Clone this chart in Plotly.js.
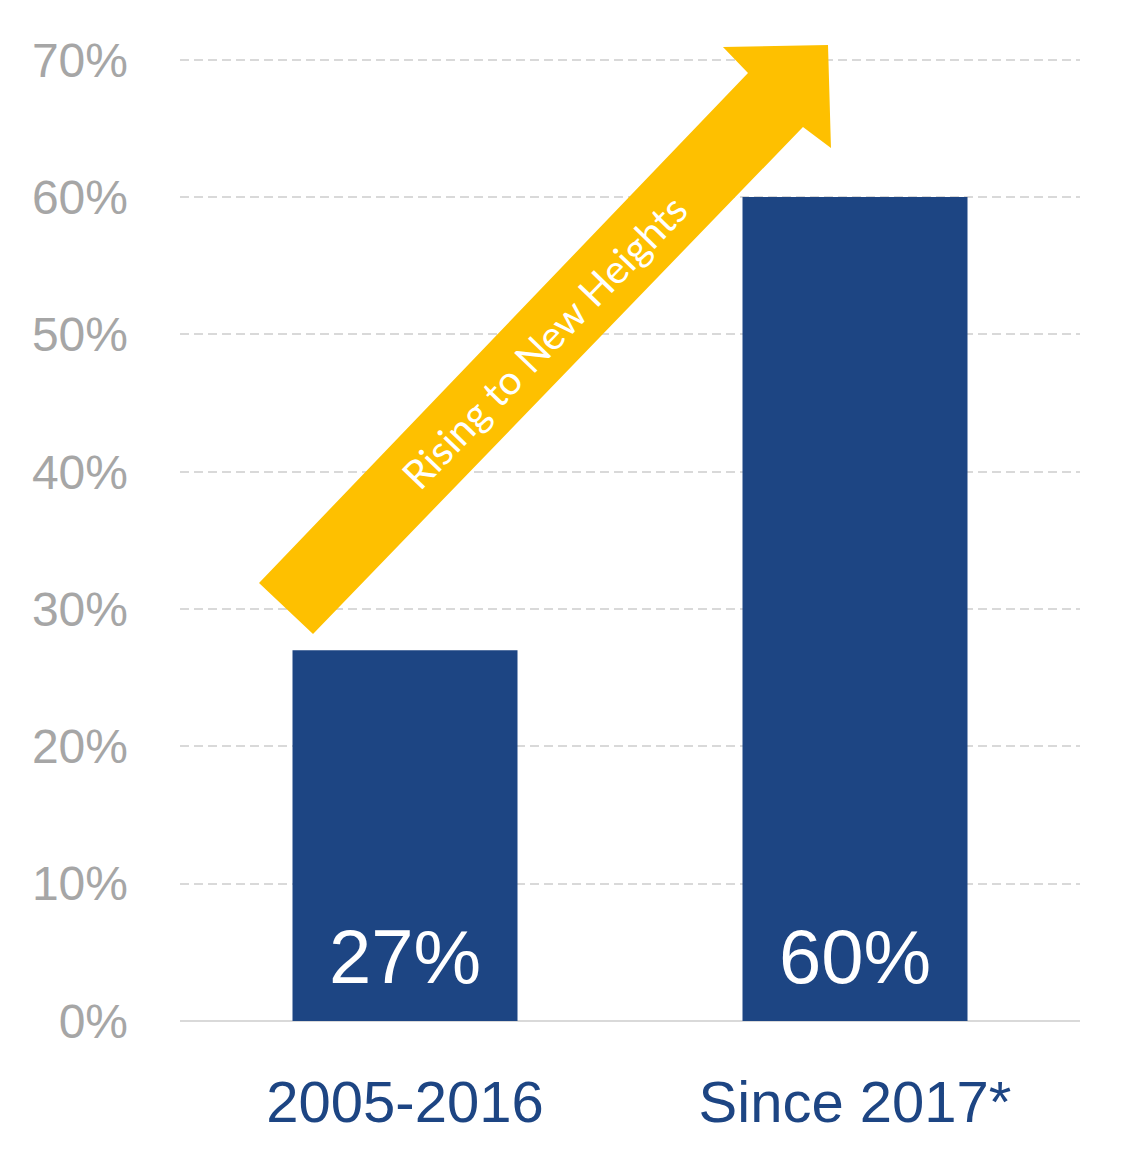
<!DOCTYPE html>
<html>
<head>
<meta charset="utf-8">
<script src="https://cdn.plot.ly/plotly-3.0.1.min.js"></script>
<style>
  html, body { margin: 0; padding: 0; background: #fff; }
  #chart { width: 1136px; height: 1173px; }
</style>
</head>
<body>
<div id="chart"></div>
<script>
var categories = ['2005-2016', 'Since 2017*'];
var shares = [27, 60];
var tickVals = [0, 10, 20, 30, 40, 50, 60, 70];
var tickText = ['0%', '10%', '20%', '30%', '40%', '50%', '60%', '70%'];
var arrowLabel = 'Rising to New Heights';

var W = 1136, H = 1173;
var M = {l: 180, r: 56, t: 57, b: 152};
var navy = '#1d4583';
var gold = '#fec000';

// pixel -> paper helpers for the decorative arrow
function px(x) { return (x - M.l) / (W - M.l - M.r); }
function py(y) { return (H - M.b - y) / (H - M.t - M.b); }

var arrowPts = [[259, 583], [748, 73], [723, 47], [828, 45], [831, 148], [803, 127], [313, 634]];
var arrowPath = arrowPts.map(function (p, i) {
  return (i ? 'L' : 'M') + px(p[0]).toFixed(4) + ',' + py(p[1]).toFixed(4);
}).join(' ') + ' Z';

var trace = {
  type: 'bar',
  x: categories,
  y: shares,
  marker: {color: navy},
  width: 0.5,
  hoverinfo: 'none'
};

var barLabels = categories.map(function (c, i) {
  return {
    x: c, y: 0, xref: 'x', yref: 'y',
    yanchor: 'bottom', yshift: 20,
    text: shares[i] + '%',
    showarrow: false,
    font: {family: 'Liberation Sans, Arial, sans-serif', size: 76, color: '#ffffff'}
  };
});

var layout = {
  width: W, height: H,
  margin: M,
  paper_bgcolor: '#ffffff',
  plot_bgcolor: '#ffffff',
  showlegend: false,
  bargap: 0.5,
  xaxis: {
    type: 'category',
    showgrid: false,
    showline: false,
    ticks: '',
    ticklabelstandoff: 42,
    tickfont: {family: 'Liberation Sans, Arial, sans-serif', size: 58, color: navy}
  },
  yaxis: {
    range: [0, 70.2],
    tickvals: tickVals,
    ticktext: tickText,
    showgrid: true,
    gridcolor: '#d9d9d9',
    gridwidth: 2,
    griddash: '9px,5px',
    zeroline: true,
    zerolinecolor: '#d9d9d9',
    zerolinewidth: 2,
    showline: false,
    ticks: '',
    ticklabelstandoff: 51,
    tickfont: {family: 'Liberation Sans, Arial, sans-serif', size: 48, color: '#a6a6a6'}
  },
  shapes: [{
    type: 'path',
    xref: 'paper', yref: 'paper',
    path: arrowPath,
    fillcolor: gold,
    line: {width: 0},
    layer: 'above'
  }],
  annotations: barLabels.concat([{
    xref: 'paper', yref: 'paper',
    x: px(544), y: py(342),
    xanchor: 'center', yanchor: 'middle',
    text: arrowLabel,
    textangle: -46,
    showarrow: false,
    font: {family: 'Lato, Open Sans, sans-serif', size: 40, color: '#ffffff'}
  }])
};

Plotly.newPlot('chart', [trace], layout, {staticPlot: true, displayModeBar: false});
</script>
</body>
</html>
